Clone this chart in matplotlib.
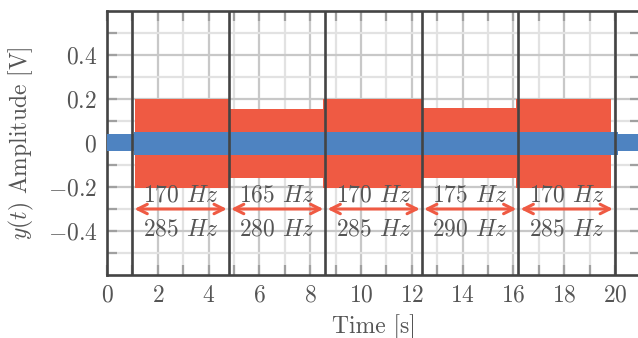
import matplotlib
matplotlib.use("Agg")
import matplotlib.pyplot as plt
import numpy as np

# ---- data ----
seg_edges = [1.0, 4.8, 8.6, 12.4, 16.2, 20.0]          # vertical separators [s]
red_edges = [1.1, 4.8, 8.5, 12.4, 16.1, 19.85]         # red signal piece boundaries [s]
red_upper = [0.20, 0.155, 0.20, 0.158, 0.20]           # red envelope upper [V]
red_lower = [-0.205, -0.16, -0.205, -0.16, -0.205]     # red envelope lower [V]
blue_edges = [0.0, 1.05, 20.1, 21.0]                   # blue signal piece boundaries [s]
blue_upper = [0.04, 0.052, 0.04]                       # blue envelope upper [V]
blue_lower = [-0.035, -0.055, -0.035]                  # blue envelope lower [V]
freq_top = [170, 165, 170, 175, 170]                   # Hz
freq_bottom = [285, 280, 285, 290, 285]                # Hz
xticks = [0, 2, 4, 6, 8, 10, 12, 14, 16, 18, 20]
yticks = [-0.4, -0.2, 0.0, 0.2, 0.4]
ytick_labels = ["$-0.4$", "$-0.2$", "$0$", "$0.2$", "$0.4$"]

RED = "#EF5A43"
BLUE = "#4E83C1"
DARK = "#444444"
TXT = "#555555"
FS = 17

plt.rcParams.update({
    "font.family": "serif",
    "font.serif": ["cmr10", "DejaVu Serif"],
    "mathtext.fontset": "cm",
    "font.size": FS,
    "axes.unicode_minus": True,
})

fig = plt.figure(figsize=(6.38, 3.38), dpi=100)
W, H = 638.0, 338.0
x0, x1 = 107, 640.4
y_top, y_bot = 11, 275
ax = fig.add_axes([x0 / W, 1 - y_bot / H, (x1 - x0) / W, (y_bot - y_top) / H])

ax.set_xlim(0, 21)
ax.set_ylim(-0.6, 0.6)

# grid
ax.set_xticks(xticks)
ax.set_xticks(np.arange(1, 21, 2), minor=True)
ax.set_yticks(yticks)
ax.set_yticks([-0.5, -0.3, -0.1, 0.1, 0.3, 0.5], minor=True)
ax.set_yticklabels(ytick_labels)
ax.set_xticklabels([f"${t}$" for t in xticks])
ax.grid(True, which="major", color="#c8c8c8", linewidth=1.6, zorder=0)
ax.grid(True, which="minor", color="#e2e2e2", linewidth=1.6, zorder=0)
ax.set_axisbelow(True)
ax.tick_params(which="both", direction="in", top=True, right=True,
               color="#a0a0a0", width=1.6, labelcolor=TXT, labelsize=FS, pad=7)
ax.tick_params(which="major", length=7)
ax.tick_params(which="minor", length=7)
for s in ax.spines.values():
    s.set_color(DARK)
    s.set_linewidth(1.9)

# red signal envelope
for i in range(len(red_upper)):
    ax.fill_between([red_edges[i], red_edges[i + 1]], red_lower[i], red_upper[i],
                    color=RED, linewidth=0, zorder=2)
# blue signal envelope
for i in range(len(blue_upper)):
    ax.fill_between([blue_edges[i], blue_edges[i + 1]], blue_lower[i], blue_upper[i],
                    color=BLUE, linewidth=0, zorder=3)

# segment separators
for e in seg_edges:
    ax.axvline(e, color=DARK, linewidth=1.9, zorder=4)

# annotations
for i in range(len(freq_top)):
    a, b = seg_edges[i], seg_edges[i + 1]
    c = (a + b) / 2
    ax.annotate("", xy=(a + 0.08, -0.30), xytext=(b - 0.08, -0.30),
                arrowprops=dict(arrowstyle="<->", color=RED, lw=2.2,
                                mutation_scale=17, shrinkA=0, shrinkB=0),
                zorder=5)
    ax.text(c, -0.24, f"{freq_top[i]} $Hz$", ha="center", va="center",
            color=TXT, fontsize=FS, zorder=5)
    ax.text(c, -0.395, f"{freq_bottom[i]} $Hz$", ha="center", va="center",
            color=TXT, fontsize=FS, zorder=5)

ax.set_xlabel("Time [s]", color=TXT, fontsize=FS, labelpad=5)
ax.set_ylabel("$y(t)$ Amplitude [V]", color=TXT, fontsize=FS, labelpad=8)

fig.savefig("out.png", dpi=100)
